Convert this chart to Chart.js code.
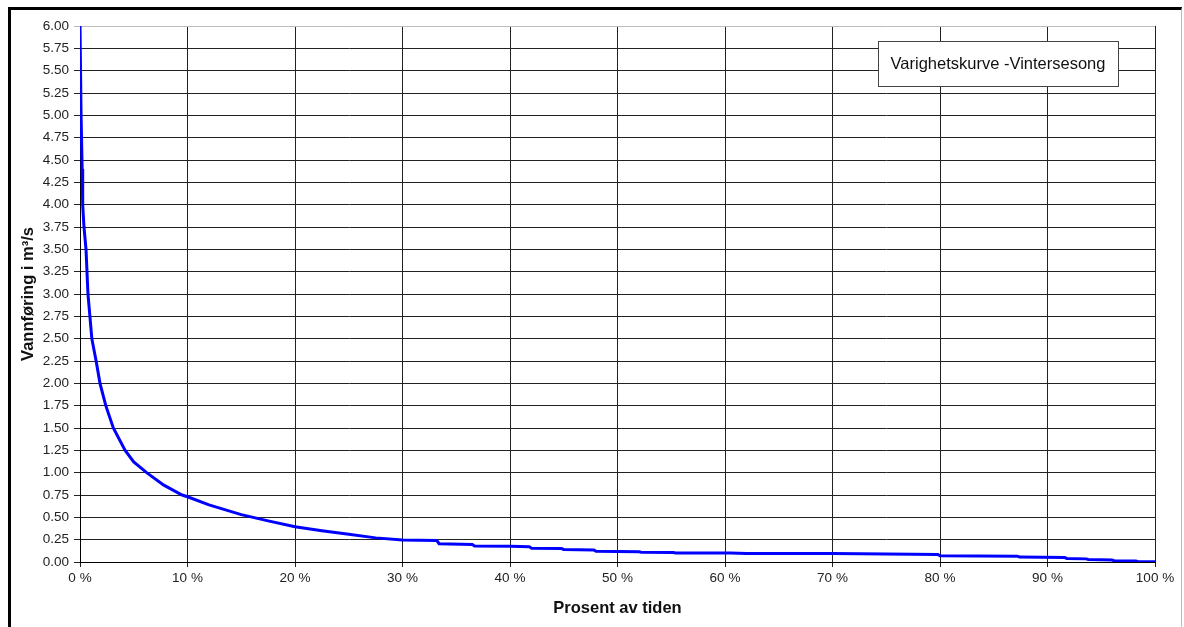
<!DOCTYPE html>
<html>
<head>
<meta charset="utf-8">
<script src="https://cdn.jsdelivr.net/npm/chart.js@4"></script>
<style>
    html, body { margin: 0; padding: 0; background: #fff; }
    #wrap { position: relative; width: 1184px; height: 627px; overflow: hidden; }
    #frame {
        position: absolute; left: 8px; top: 7px; width: 1170px; height: 640px;
        border-top: 3px solid #000; border-left: 3px solid #000; border-right: 1px solid #bbb;
        pointer-events: none;
    }
    canvas { position: absolute; left: 0; top: 0; }
</style>
</head>
<body>
<div id="wrap">
    <canvas id="chart" width="1184" height="627"></canvas>
    <div id="frame"></div>
</div>
<script>
// Prosent av tiden (%) and vannføring (m³/s)
const percentOfTime = [
    0, 0.1, 0.2, 0.25, 0.37, 0.56, 0.74, 1.1, 1.5, 1.86, 2.4, 3.1, 4.2, 5, 6.2, 7.8, 9.5, 10,
    12, 15, 17.5, 20, 22.5, 25, 27.5, 30, 33.2, 33.4, 36.5, 36.7, 40, 41.8, 42, 44.8, 45,
    47.8, 48, 52, 52.2, 55.2, 55.4, 60.5, 62, 65, 70, 75, 79.8, 80, 87.2, 87.4, 91.6, 91.8,
    93.6, 93.8, 96, 96.2, 98.2, 98.4, 100
];
const flow = [
    6.0, 5.0, 4.4, 4.0, 3.75, 3.5, 3.0, 2.5, 2.25, 2.0, 1.75, 1.5, 1.25, 1.12, 1.0, 0.86, 0.75, 0.73,
    0.64, 0.53, 0.46, 0.395, 0.35, 0.31, 0.27, 0.245, 0.24, 0.205, 0.195, 0.18, 0.175, 0.17, 0.155, 0.15, 0.14,
    0.135, 0.12, 0.115, 0.11, 0.105, 0.10, 0.10, 0.095, 0.095, 0.095, 0.09, 0.085, 0.07, 0.065, 0.055, 0.05, 0.04,
    0.035, 0.028, 0.022, 0.014, 0.01, 0.005, 0.004
];
const seriesLabel = 'Varighetskurve -Vintersesong';
const xTicks = [0, 10, 20, 30, 40, 50, 60, 70, 80, 90, 100];

const points = percentOfTime.map((p, i) => ({ x: p, y: flow[i] }));

// box with the series name, drawn inside the plot area
const labelBox = {
    id: 'labelBox',
    afterDraw(chart) {
        const ctx = chart.ctx;
        const area = chart.chartArea;
        const w = 240, h = 45;
        const x = area.right - 37 - w;
        const y = area.top + 15;
        ctx.save();
        ctx.fillStyle = '#fff';
        ctx.fillRect(x, y, w, h);
        ctx.strokeStyle = '#444';
        ctx.lineWidth = 1;
        ctx.strokeRect(x + 0.5, y + 0.5, w, h);
        ctx.fillStyle = '#111';
        ctx.font = '16.5px "Liberation Sans", Arial, sans-serif';
        ctx.textAlign = 'center';
        ctx.textBaseline = 'middle';
        ctx.fillText(seriesLabel, x + w / 2, y + h / 2 + 1);
        ctx.restore();
    }
};

Chart.defaults.font.family = '"Liberation Sans", Arial, sans-serif';
Chart.defaults.color = '#222';

new Chart(document.getElementById('chart').getContext('2d'), {
    type: 'line',
    data: {
        datasets: [{
            label: seriesLabel,
            data: points,
            borderColor: '#0000ff',
            borderWidth: 3,
            pointRadius: 0,
            tension: 0,
            fill: false
        }]
    },
    options: {
        responsive: false,
        animation: false,
        layout: { padding: { top: 26, right: 29, left: 0, bottom: 0 } },
        plugins: {
            legend: { display: false },
            tooltip: { enabled: false }
        },
        scales: {
            x: {
                type: 'linear',
                min: 0,
                max: 100,
                afterBuildTicks(scale) {
                    scale.ticks = xTicks.map(v => ({ value: v }));
                },
                afterFit(scale) { scale.height = 65; },
                ticks: {
                    font: { size: 13.5 },
                    padding: 3,
                    maxRotation: 0,
                    callback: v => v + ' %'
                },
                grid: { color: '#222', lineWidth: 1, tickLength: 5 },
                border: { color: '#000', width: 1 },
                title: {
                    display: true,
                    text: 'Prosent av tiden',
                    font: { size: 16.5, weight: 'bold' },
                    color: '#111',
                    padding: { top: 8, bottom: 9 }
                }
            },
            y: {
                min: 0,
                max: 6,
                afterFit(scale) { scale.width = 80; },
                ticks: {
                    stepSize: 0.25,
                    font: { size: 13.5 },
                    padding: 5,
                    callback: v => v.toFixed(2)
                },
                grid: {
                    color: ctx => ctx.tick && ctx.tick.value === 6 ? '#bbb' : '#222',
                    lineWidth: 1,
                    tickLength: 6
                },
                border: { color: '#000', width: 1 },
                title: {
                    display: true,
                    text: 'Vannføring i m³/s',
                    font: { size: 16.5, weight: 'bold' },
                    color: '#111',
                    padding: { top: 19, bottom: 0 }
                }
            }
        }
    },
    plugins: [labelBox]
});
</script>
</body>
</html>
